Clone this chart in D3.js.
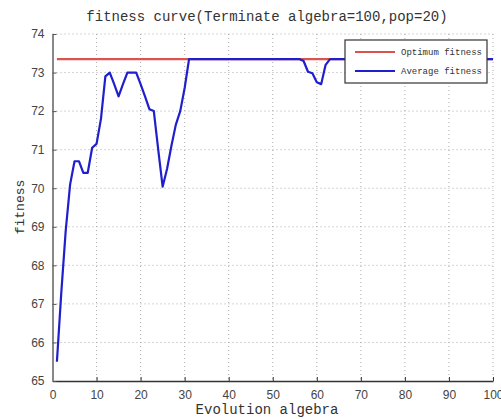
<!DOCTYPE html>
<html>
<head>
<meta charset="utf-8">
<script src="https://cdn.jsdelivr.net/npm/d3@7"></script>
<style>
  body { margin: 0; background: #fff; }
  svg { display: block; }
  .tick text { font-family: Arial, "Liberation Sans", sans-serif; font-size: 12px; fill: #444; }
</style>
</head>
<body>
<div id="container"></div>
<script>
/* CONSTANTS AND GLOBALS */
const width = 501,
      height = 419,
      margin = { top: 34, right: 8, bottom: 38, left: 52.5 };

/* DATA */
const generations = d3.range(1, 101);
const optimumFitness = [
  73.35, 73.35, 73.35, 73.35, 73.35, 73.35, 73.35, 73.35, 73.35, 73.35,
  73.35, 73.35, 73.35, 73.35, 73.35, 73.35, 73.35, 73.35, 73.35, 73.35,
  73.35, 73.35, 73.35, 73.35, 73.35, 73.35, 73.35, 73.35, 73.35, 73.35,
  73.35, 73.35, 73.35, 73.35, 73.35, 73.35, 73.35, 73.35, 73.35, 73.35,
  73.35, 73.35, 73.35, 73.35, 73.35, 73.35, 73.35, 73.35, 73.35, 73.35,
  73.35, 73.35, 73.35, 73.35, 73.35, 73.35, 73.35, 73.35, 73.35, 73.35,
  73.35, 73.35, 73.35, 73.35, 73.35, 73.35, 73.35, 73.35, 73.35, 73.35,
  73.35, 73.35, 73.35, 73.35, 73.35, 73.35, 73.35, 73.35, 73.35, 73.35,
  73.35, 73.35, 73.35, 73.35, 73.35, 73.35, 73.35, 73.35, 73.35, 73.35,
  73.35, 73.35, 73.35, 73.35, 73.35, 73.35, 73.35, 73.35, 73.35, 73.35
];
const averageFitness = [
  65.5, 67.3, 68.9, 70.1, 70.7, 70.7, 70.4, 70.4, 71.05, 71.15,
  71.8, 72.9, 73.0, 72.7, 72.38, 72.7, 73.0, 73.0, 73.0, 72.7,
  72.38, 72.05, 72.0, 71.0, 70.04, 70.5, 71.1, 71.65, 72.0, 72.6,
  73.35, 73.35, 73.35, 73.35, 73.35, 73.35, 73.35, 73.35, 73.35, 73.35,
  73.35, 73.35, 73.35, 73.35, 73.35, 73.35, 73.35, 73.35, 73.35, 73.35,
  73.35, 73.35, 73.35, 73.35, 73.35, 73.35, 73.3, 73.02, 72.98, 72.75,
  72.7, 73.2, 73.35, 73.35, 73.35, 73.35, 73.35, 73.35, 73.35, 73.35,
  73.35, 73.35, 73.35, 73.35, 73.35, 73.35, 73.35, 73.35, 73.35, 73.35,
  73.35, 73.35, 73.35, 73.35, 73.35, 73.35, 73.35, 73.35, 73.35, 73.35,
  73.35, 73.35, 73.35, 73.35, 73.35, 73.35, 73.35, 73.35, 73.35, 73.35
];
const xTicks = [0, 10, 20, 30, 40, 50, 60, 70, 80, 90, 100];
const yTicks = [65, 66, 67, 68, 69, 70, 71, 72, 73, 74];
const seriesNames = ["Optimum fitness", "Average fitness"];
const seriesColors = ["#d9534f", "#1f1fcc"];

/* SCALES */
const xScale = d3.scaleLinear()
  .domain([0, 100])
  .range([margin.left, width - margin.right]);

const yScale = d3.scaleLinear()
  .domain([65, 74])
  .range([height - margin.bottom, margin.top]);

const svg = d3.select("#container")
  .append("svg")
  .attr("width", width)
  .attr("height", height);

// grid
svg.append("g")
  .selectAll("line")
  .data(xTicks.slice(1))
  .join("line")
    .attr("x1", d => xScale(d))
    .attr("x2", d => xScale(d))
    .attr("y1", margin.top)
    .attr("y2", height - margin.bottom)
    .attr("stroke", "#aaa")
    .attr("stroke-dasharray", "1,3");

svg.append("g")
  .selectAll("line")
  .data(yTicks.slice(1))
  .join("line")
    .attr("x1", margin.left)
    .attr("x2", width - margin.right)
    .attr("y1", d => yScale(d))
    .attr("y2", d => yScale(d))
    .attr("stroke", "#aaa")
    .attr("stroke-dasharray", "1,3");

/* AXES */
const gx = svg.append("g")
  .attr("transform", `translate(0, ${height - margin.bottom})`)
  .call(d3.axisBottom(xScale).tickValues(xTicks).tickSize(-4).tickPadding(9).tickSizeOuter(0));
gx.select(".domain").attr("stroke", "#333").attr("stroke-width", 1.5);
gx.selectAll(".tick line").attr("stroke", "#333");

const gy = svg.append("g")
  .attr("transform", `translate(${margin.left}, 0)`)
  .call(d3.axisLeft(yScale).tickValues(yTicks).tickSize(-4).tickPadding(8).tickSizeOuter(0));
gy.select(".domain").attr("stroke", "#888").attr("stroke-width", 2);
gy.selectAll(".tick line").attr("stroke", "#555");

/* LINES */
const line = d3.line()
  .x((d, i) => xScale(generations[i]))
  .y(d => yScale(d));

svg.append("path")
  .datum(optimumFitness)
  .attr("fill", "none")
  .attr("stroke", seriesColors[0])
  .attr("stroke-width", 2.2)
  .attr("d", line);

svg.append("path")
  .datum(averageFitness)
  .attr("fill", "none")
  .attr("stroke", seriesColors[1])
  .attr("stroke-width", 2.2)
  .attr("stroke-linejoin", "round")
  .attr("d", line);

/* TEXT */
svg.append("text")
  .attr("x", 267)
  .attr("y", 21)
  .attr("text-anchor", "middle")
  .attr("font-family", "'Liberation Mono', monospace")
  .attr("font-size", 14)
  .attr("fill", "#333")
  .text("fitness curve(Terminate algebra=100,pop=20)");

svg.append("text")
  .attr("x", 267)
  .attr("y", 414)
  .attr("text-anchor", "middle")
  .attr("font-family", "'Liberation Mono', monospace")
  .attr("font-size", 14)
  .attr("fill", "#333")
  .text("Evolution algebra");

svg.append("text")
  .attr("transform", "translate(24, 207) rotate(-90)")
  .attr("text-anchor", "middle")
  .attr("font-family", "'Liberation Mono', monospace")
  .attr("font-size", 13)
  .attr("fill", "#333")
  .text("fitness");

/* LEGEND */
const legend = svg.append("g").attr("transform", "translate(345, 40)");
legend.append("rect")
  .attr("width", 142)
  .attr("height", 43)
  .attr("fill", "#fff")
  .attr("stroke", "#333")
  .attr("stroke-width", 1.2);

const items = legend.selectAll(".item")
  .data(seriesNames)
  .join("g")
    .attr("class", "item")
    .attr("transform", (d, i) => `translate(0, ${12 + i * 19})`);

items.append("line")
  .attr("x1", 10)
  .attr("x2", 50)
  .attr("stroke", (d, i) => seriesColors[i])
  .attr("stroke-width", 2.2);

items.append("text")
  .attr("x", 56)
  .attr("y", 3)
  .attr("font-family", "'Liberation Mono', monospace")
  .attr("font-size", 9)
  .attr("fill", "#333")
  .text(d => d);
</script>
</body>
</html>
